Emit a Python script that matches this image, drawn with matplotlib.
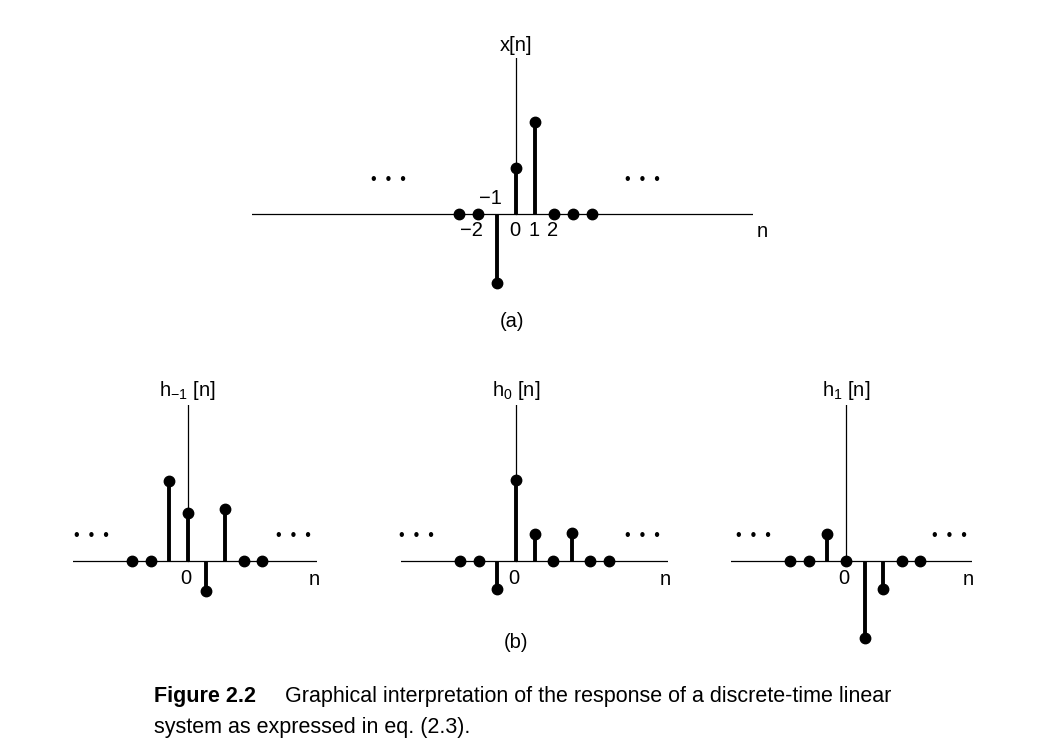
import matplotlib
matplotlib.use("Agg")
import matplotlib.pyplot as plt
import numpy as np

# ---------------------------------------------------------------------------
# Sequences
# ---------------------------------------------------------------------------
# (a) input sequence x[n]
n_x = [-3, -2, -1, 0, 1, 2, 3, 4]
x_vals = [0, 0, -1.5, 1.0, 2.0, 0, 0, 0]
x_ticks = [-2, -1, 0, 1, 2]
x_tick_labels = ["\u22122", "\u22121", "0", "1", "2"]

# (b) responses to the shifted unit samples
n_hm1 = [-3, -2, -1, 0, 1, 2, 3, 4]
h_m1 = [0, 0, 1.74, 1.04, -0.65, 1.13, 0, 0]

n_h0 = [-3, -2, -1, 0, 1, 2, 3, 4, 5]
h_0 = [0, 0, -0.61, 1.76, 0.59, 0, 0.61, 0, 0]

n_h1 = [-3, -2, -1, 0, 1, 2, 3, 4]
h_1 = [0, 0, 0.59, 0, -1.67, -0.61, 0, 0]

panel_titles = ["x[n]", "h$_{-1}$ [n]", "h$_{0}$ [n]", "h$_{1}$ [n]"]
caption_bold = "Figure 2.2"
caption_line1 = "Graphical interpretation of the response of a discrete-time linear"
caption_line2 = "system as expressed in eq. (2.3)."

# ---------------------------------------------------------------------------
# Style
# ---------------------------------------------------------------------------
W, H, DPI = 1062, 755, 100
LABEL_FONT = ["Liberation Sans", "DejaVu Sans"]
CAPTION_FONT = ["Liberation Sans Narrow", "Liberation Sans", "DejaVu Sans"]
plt.rcParams["font.family"] = LABEL_FONT
plt.rcParams["mathtext.fontset"] = "custom"
plt.rcParams["mathtext.rm"] = "Liberation Sans"
plt.rcParams["mathtext.it"] = "Liberation Sans"
plt.rcParams["mathtext.default"] = "regular"

FS = 14.5
STEM_LW = 2.8
AXIS_LW = 0.9
MS = 7.5
DOTS = "\u2022  \u2022  \u2022"

fig = plt.figure(figsize=(W / DPI, H / DPI), dpi=DPI, facecolor="white")


def make_panel(origin, sx, sy, xlim, ylim):
    """Axes whose data origin sits at pixel `origin` with sx, sy pixels per unit."""
    ox, oy = origin
    left = ox + xlim[0] * sx
    width = (xlim[1] - xlim[0]) * sx
    top = oy - ylim[1] * sy
    height = (ylim[1] - ylim[0]) * sy
    ax = fig.add_axes([left / W, 1 - (top + height) / H, width / W, height / H])
    ax.set_xlim(xlim)
    ax.set_ylim(ylim)
    ax.axis("off")
    ax.patch.set_alpha(0)
    # horizontal n axis and vertical amplitude axis
    ax.axhline(0, color="black", lw=AXIS_LW, zorder=1)
    y0 = (0 - ylim[0]) / (ylim[1] - ylim[0])
    ax.axvline(0, ymin=y0, ymax=1, color="black", lw=AXIS_LW, zorder=1)
    return ax


def stems(ax, n, v):
    n = np.asarray(n, float)
    v = np.asarray(v, float)
    nz = v != 0
    ax.vlines(n[nz], 0, v[nz], color="black", lw=STEM_LW, zorder=2)
    ax.plot(n, v, "o", color="black", ms=MS, zorder=3, clip_on=False)


def dots(ax, x, y):
    ax.text(x, y, DOTS, ha="center", va="center", fontsize=11.5, color="black")


# ---------------------------------------------------------------------------
# (a) x[n]
# ---------------------------------------------------------------------------
ax_a = make_panel((516, 214), 19.0, 46.0, (-13.9, 12.5), (-1.9, 3.39))
stems(ax_a, n_x, x_vals)
ax_a.text(0, 3.66, panel_titles[0], ha="center", va="center", fontsize=FS)
ax_a.text(12.95, -0.37, "n", ha="center", va="center", fontsize=FS)
for k, lab in zip(x_ticks, x_tick_labels):
    ypos = 0.34 if dict(zip(n_x, x_vals))[k] < 0 else -0.35
    if lab.startswith("\u2212"):
        ax_a.text(k + 0.27, ypos, lab, ha="right", va="center", fontsize=FS)
    else:
        ax_a.text(k - 0.07, ypos, lab, ha="center", va="center", fontsize=FS)
dots(ax_a, -6.74, 0.74)
dots(ax_a, 6.63, 0.74)
ax_a.text(-0.2, -2.33, "(a)", ha="center", va="center", fontsize=FS)

# ---------------------------------------------------------------------------
# (b) h_{-1}[n], h_0[n], h_1[n]
# ---------------------------------------------------------------------------
SXB = 18.6
panels_b = [
    ((187.7, 561), (-6.18, 6.94), n_hm1, h_m1, panel_titles[1], 6.79, (-5.17, 5.69)),
    ((516, 561), (-6.2, 8.17), n_h0, h_0, panel_titles[2], 8.0, (-5.35, 6.8)),
    ((846, 561), (-6.2, 6.8), n_h1, h_1, panel_titles[3], 6.56, (-4.95, 5.54)),
]
axes_b = []
for origin, xlim, n, v, title, n_pos, dot_pos in panels_b:
    ax = make_panel(origin, SXB, 46.0, xlim, (-2.0, 3.39))
    stems(ax, n, v)
    ax.text(0, 3.7, title, ha="center", va="center", fontsize=FS)
    ax.text(-0.1, -0.37, "0", ha="center", va="center", fontsize=FS)
    ax.text(n_pos, -0.4, "n", ha="center", va="center", fontsize=FS)
    dots(ax, dot_pos[0], 0.55)
    dots(ax, dot_pos[1], 0.55)
    axes_b.append(ax)

axes_b[1].text(0, -1.78, "(b)", ha="center", va="center", fontsize=FS)

# ---------------------------------------------------------------------------
# Caption
# ---------------------------------------------------------------------------
CFS = 15.5
CAP_LEFT = 154
fig.text(CAP_LEFT / W, 1 - 702 / H, caption_bold, ha="left", va="baseline",
         fontsize=CFS, fontweight="bold", family=CAPTION_FONT)
fig.text(285 / W, 1 - 702 / H, caption_line1, ha="left", va="baseline",
         fontsize=CFS, family=CAPTION_FONT)
fig.text(CAP_LEFT / W, 1 - 733 / H, caption_line2, ha="left", va="baseline",
         fontsize=CFS, family=CAPTION_FONT)

fig.savefig("out.png", dpi=DPI, facecolor="white")
